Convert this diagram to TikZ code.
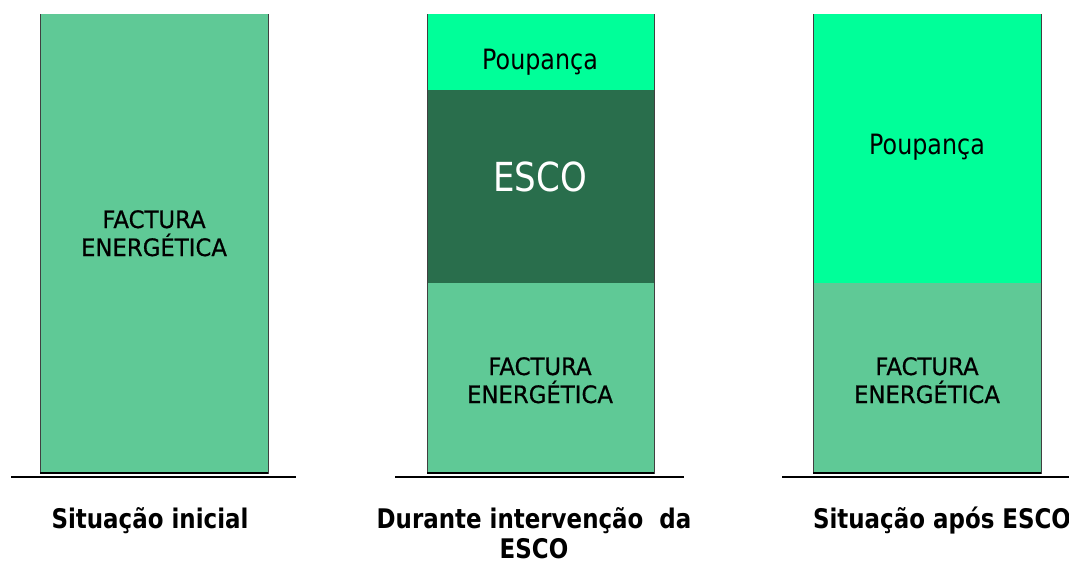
\documentclass[tikz,border=0pt]{standalone}
\usepackage{fontspec}
\setmainfont[FakeStretch=0.85]{DejaVu Sans}
\newfontfamily\capsfont[FakeStretch=0.95,FakeBold=0.6]{DejaVu Sans}
\definecolor{factura}{RGB}{95,201,150}
\definecolor{poupanca}{RGB}{0,255,153}
\definecolor{esco}{RGB}{41,110,76}
\begin{document}
\begin{tikzpicture}[x=1pt,y=-1pt,
    barlabel/.style={anchor=base,inner sep=0pt,font=\fontsize{27}{31}\selectfont\bfseries},
    facttext/.style={anchor=base,inner sep=0pt,font=\capsfont\fontsize{24}{28}\selectfont},
    pouptext/.style={anchor=base,inner sep=0pt,font=\fontsize{28}{32}\selectfont}]
  \useasboundingbox (0,0) rectangle (1069,563);

  % bars
  \fill[factura] (40,14) rectangle (268,474);
  \fill[poupanca] (427,14) rectangle (654,90);
  \fill[esco] (427,90) rectangle (654,283);
  \fill[factura] (427,283) rectangle (654,474);
  \fill[poupanca] (813,14) rectangle (1041,283);
  \fill[factura] (813,283) rectangle (1041,474);
  \foreach \xa/\xb in {40/268,427/654,813/1041} {
    \draw[black!75,line width=0.7pt] (\xa,14) -- (\xa,474) (\xb,14) -- (\xb,474);
    \draw[black,line width=2pt] (\xa,473) -- (\xb,473);
  }

  % base lines
  \coordinate (b1l) at (11,477);  \coordinate (b1r) at (296,477);
  \coordinate (b2l) at (395,477); \coordinate (b2r) at (684,477);
  \coordinate (b3l) at (782,477); \coordinate (b3r) at (1069,477);
  \draw[line width=2pt] (b1l) -- (b1r);
  \draw[line width=2pt] (b2l) -- (b2r);
  \draw[line width=2pt] (b3l) -- (b3r);

  % texts in the bars
  \node[facttext] (f1a) at (154,228) {FACTURA};
  \node[facttext] (f1b) at (154,256) {ENERGÉTICA};
  \node[pouptext] (p2) at (540,69) {Poupança};
  \node[anchor=base,inner sep=0pt,text=white,font=\fontsize{40}{44}\selectfont] (e2) at (540,191) {ESCO};
  \node[facttext] (f2a) at (540,375) {FACTURA};
  \node[facttext] (f2b) at (540,403) {ENERGÉTICA};
  \node[pouptext] (p3) at (927,154) {Poupança};
  \node[facttext] (f3a) at (927,375) {FACTURA};
  \node[facttext] (f3b) at (927,403) {ENERGÉTICA};

  % captions
  \node[barlabel] (c1) at (150,528) {Situação inicial};
  \node[barlabel] (c2a) at (534,528) {Durante intervenção\ \ da};
  \node[barlabel] (c2b) at (534,558) {ESCO};
  \node[barlabel] (c3) at (942,528) {Situação após ESCO};
\end{tikzpicture}
\end{document}
